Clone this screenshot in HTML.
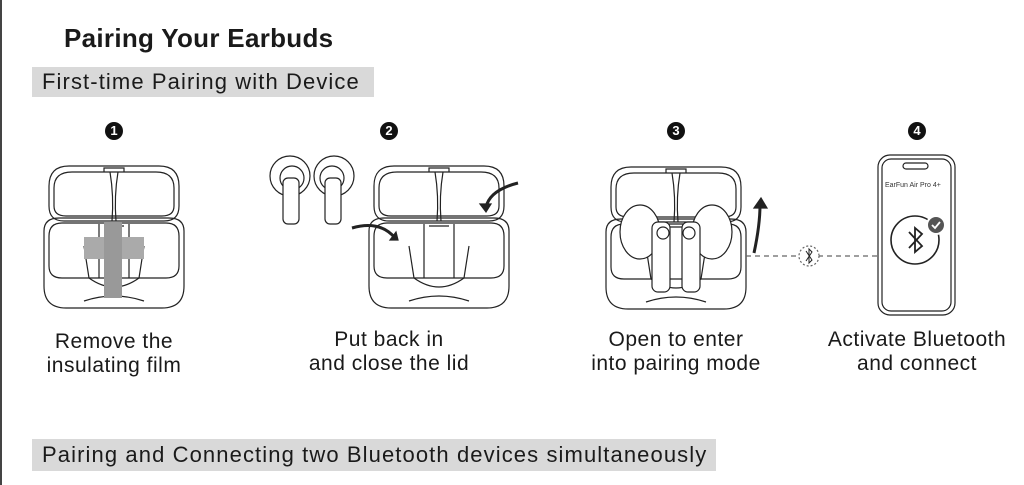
<!DOCTYPE html>
<html><head><style>
body{margin:0;width:1024px;height:485px;background:#fff;position:relative;overflow:hidden;font-family:"Liberation Sans",sans-serif;color:#1a1a1a}
.t{position:absolute;white-space:nowrap}
.ban{position:absolute;background:#d9d9d9;font-size:22px;letter-spacing:1.1px;padding-left:10px;box-sizing:border-box;line-height:30px;white-space:nowrap}
.lab{position:absolute;width:240px;text-align:center;font-size:21px;letter-spacing:0.5px;line-height:24px}
.n{position:absolute;width:18px;height:18px;border-radius:50%;background:#111;color:#fff;font-size:13px;font-weight:bold;text-align:center;line-height:18px}
</style></head><body>
<div style="position:absolute;left:0;top:0;width:2px;height:485px;background:#444"></div>
<div class="t" style="left:64px;top:23px;font-size:26px;letter-spacing:0.3px;font-weight:bold">Pairing Your Earbuds</div>
<div class="ban" style="left:32px;top:67px;width:342px;height:30px">First-time Pairing with Device</div>
<div class="ban" style="left:32px;top:439px;width:684px;height:32px;line-height:32px">Pairing and Connecting two Bluetooth devices simultaneously</div>
<div class="n" style="left:105px;top:122px">1</div>
<div class="n" style="left:380px;top:122px">2</div>
<div class="n" style="left:667px;top:122px">3</div>
<div class="n" style="left:908px;top:122px">4</div>
<svg width="1024" height="485" style="position:absolute;left:0;top:0" fill="none" stroke="#222" stroke-width="1.2">
<defs>
<g id="case">
<path d="M5,20 Q5,0 25,0 L115,0 Q135,0 135,20 L135,40 Q135,55 120,55 L20,55 Q5,55 5,40 Z"/>
<path d="M10,22 Q10,6 28,6 L112,6 Q130,6 130,22 L130,40 Q130,50 118,50 L22,50 Q10,50 10,40 Z"/>
<path d="M60,6 L60,2 L80,2 L80,6 M66,6 Q70,30 68,55 M74,6 Q70,30 72,55"/>
<path d="M0,65 Q0,52 15,52 L125,52 Q140,52 140,65 L140,120 Q140,142 118,142 L22,142 Q0,142 0,120 Z"/>
<path d="M5,70 Q5,57 18,57 L122,57 Q135,57 135,70 L135,100 Q135,112 122,112 L18,112 Q5,112 5,100 Z"/>
<path d="M55,58 L55,112 M85,58 L85,112 M60,60 L80,60 M40,80 L45,112 M100,80 L95,112"/>
<path d="M45,112 Q70,130 95,112 M40,135 Q70,125 100,135"/>
</g>
</defs>
<use href="#case" x="44" y="166"/>
<rect x="84" y="237" width="60" height="22" fill="#aaa" stroke="none"/>
<rect x="104" y="222" width="18" height="76" fill="#999" stroke="none"/>
<use href="#case" x="369" y="166"/>
<use href="#case" x="606" y="167"/>
<g>
<circle cx="290" cy="176" r="20"/><circle cx="292" cy="178" r="12"/>
<rect x="283" y="178" width="16" height="46" rx="5" fill="#fff"/>
<circle cx="334" cy="176" r="20"/><circle cx="332" cy="178" r="12"/>
<rect x="325" y="178" width="16" height="46" rx="5" fill="#fff"/>
</g>
<path d="M352,228 Q380,220 395,238" stroke-width="3"/><path d="M390,240 L398,240 L396,232 Z" fill="#222"/>
<path d="M518,183 Q490,190 486,207" stroke-width="3"/><path d="M480,204 L486,212 L491,204 Z" fill="#222"/>
<path d="M754,253 Q760,225 760,205" stroke-width="3"/><path d="M754,208 L761,198 L767,208 Z" fill="#222"/>
<g fill="#fff">
<ellipse cx="640" cy="232" rx="20" ry="27"/><ellipse cx="712" cy="232" rx="20" ry="27"/>
<rect x="652" y="222" width="18" height="70" rx="6"/><rect x="682" y="222" width="18" height="70" rx="6"/>
<circle cx="663" cy="233" r="6"/><circle cx="689" cy="233" r="6"/>
</g>
<path d="M746,256 L878,256" stroke="#666" stroke-dasharray="5,4"/>
<circle cx="809" cy="256" r="10" fill="#fff" stroke="#666" stroke-dasharray="2,2"/>
<path d="M806,251 L812,260 L809,263 L809,249 L812,252 L806,261" stroke-width="1"/>
<rect x="878" y="155" width="77" height="160" rx="12"/>
<rect x="882" y="159" width="69" height="152" rx="9"/>
<rect x="903" y="163" width="25" height="6" rx="3"/>
<circle cx="915" cy="240" r="24" stroke-width="1.6"/>
<path d="M909,232 L922,246 L915,252 L915,228 L922,234 L909,248" stroke-width="1.8"/>
<circle cx="936" cy="225" r="9" fill="#555" stroke="#fff" stroke-width="2"/>
<path d="M932,225 L935,228 L940,222" stroke="#fff" stroke-width="1.8"/>
</svg>
<div class="t" style="left:885px;top:182px;font-size:7px;color:#333">EarFun Air Pro 4+</div>
<div class="lab" style="left:-6px;top:330px">Remove the<br>insulating film</div>
<div class="lab" style="left:269px;top:328px">Put back in<br>and close the lid</div>
<div class="lab" style="left:556px;top:328px">Open to enter<br>into pairing mode</div>
<div class="lab" style="left:797px;top:328px">Activate Bluetooth<br>and connect</div>
</body></html>
